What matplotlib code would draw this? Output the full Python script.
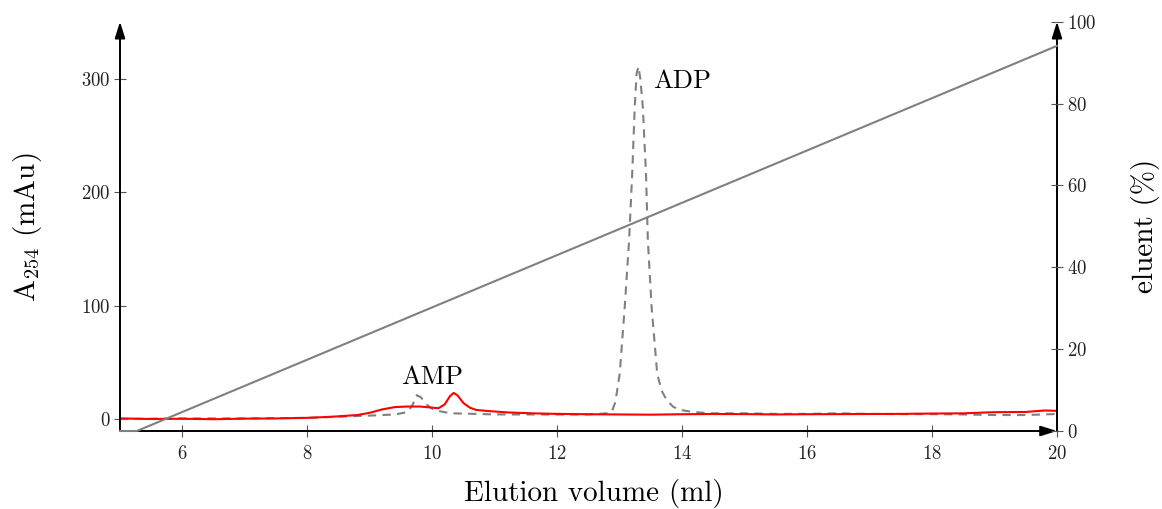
import matplotlib
matplotlib.use("Agg")
import matplotlib.pyplot as plt
import numpy as np

plt.rcParams['font.family'] = 'serif'
plt.rcParams['font.serif'] = ['cmr10']
plt.rcParams['mathtext.fontset'] = 'cm'
plt.rcParams['axes.formatter.use_mathtext'] = True

# gradient of eluent (%)
grad_x = [5.0, 5.27, 20.0]
grad_y = [0.0, 0.0, 94.1]

# A254 trace, dashed grey
dash_x = [5.0, 6.0, 7.0, 8.0, 8.5, 9.0, 9.4, 9.6, 9.68, 9.75, 9.82, 9.9, 10.0, 10.1, 10.3,
          10.7, 11.0, 11.5, 12.0, 12.5, 12.8, 12.87, 12.93, 13.0, 13.08, 13.15, 13.2, 13.24,
          13.27, 13.3, 13.33, 13.37, 13.42, 13.45, 13.51, 13.6, 13.67, 13.75, 13.85, 13.96,
          14.2, 14.5, 15.0, 15.5, 16.0, 16.5, 17.0, 17.5, 18.0, 18.5, 19.0, 19.5, 20.0]
dash_y = [0.0, 0.5, 0.5, 1.0, 2.0, 3.0, 4.0, 6.0, 12.0, 21.0, 19.0, 13.0, 9.0, 7.0, 5.0,
          4.5, 4.0, 4.0, 4.0, 4.0, 5.0, 6.0, 15.0, 40.0, 99.0, 158.0, 217.0, 275.0,
          305.0, 311.0, 300.0, 275.0, 217.0, 158.0, 99.0, 40.0, 25.0, 17.0, 11.0, 8.0,
          6.0, 5.0, 5.0, 4.5, 4.5, 5.0, 4.5, 4.3, 4.3, 4.0, 3.5, 3.5, 4.4]

# A254 trace, red
red_x = [5.0, 5.5, 6.0, 6.5, 7.0, 7.5, 8.0, 8.4, 8.8, 9.0, 9.2, 9.4, 9.6, 9.8, 10.0, 10.1,
         10.2, 10.28, 10.34, 10.4, 10.5, 10.6, 10.7, 10.9, 11.2, 11.6, 12.0, 12.5, 13.0,
         13.5, 14.0, 14.5, 15.0, 15.5, 16.0, 16.5, 17.0, 17.5, 18.0, 18.5, 19.0, 19.5,
         19.8, 20.0]
red_y = [0.5, 0.0, 0.2, -0.2, 0.3, 0.5, 1.0, 2.0, 3.5, 5.5, 8.5, 10.5, 11.0, 11.0, 10.0, 9.5,
         13.0, 20.0, 23.0, 21.0, 14.0, 10.0, 8.0, 7.0, 5.8, 5.0, 4.5, 4.2, 4.0,
         3.8, 4.2, 4.4, 4.3, 4.0, 4.2, 4.3, 4.4, 4.5, 4.8, 5.0, 6.0, 6.2,
         7.5, 7.2]

x_ticks = [6, 8, 10, 12, 14, 16, 18, 20]
left_ticks = [0, 100, 200, 300]
right_ticks = [0, 20, 40, 60, 80, 100]

fig = plt.figure(figsize=(11.62, 5.09), dpi=100)
ax = fig.add_axes([120/1162, 1-431/509, 937/1162, (431-21.7)/509])
ax2 = ax.twinx()

ax.plot(dash_x, dash_y, color='#808080', lw=1.5, ls=(0, (4, 3)), zorder=2)
ax.plot(red_x, red_y, color='red', lw=1.5, zorder=3)
ax2.plot(grad_x, grad_y, color='#808080', lw=1.5, clip_on=False)

ax.text(10.0, 30.6, 'AMP', ha='center', va='baseline', fontsize=19)
ax.text(13.53, 292, 'ADP', ha='left', va='baseline', fontsize=19)

ax.set_xlim(5, 20)
ax.set_ylim(-10.6, 350.6)
ax2.set_ylim(0, 100)
ax.set_xticks(x_ticks)
ax.set_yticks(left_ticks)
ax2.set_yticks(right_ticks)

for a in (ax, ax2):
    for s in a.spines.values():
        s.set_visible(False)
    a.tick_params(direction='inout', length=8, width=0.8, color='#555555',
                  labelsize=13.5, labelcolor='#222222', pad=3)
ax.tick_params(axis='x', pad=6)

arrow = dict(arrowstyle='-|>,head_length=0.7,head_width=0.22', lw=1.4, color='black',
             mutation_scale=14, shrinkA=0, shrinkB=0)
ax.annotate('', xy=(0, 1), xytext=(0, 0), xycoords='axes fraction', arrowprops=arrow)
ax.annotate('', xy=(1, 0), xytext=(0, 0), xycoords='axes fraction', arrowprops=arrow)
ax.annotate('', xy=(1, 1), xytext=(1, 0), xycoords='axes fraction', arrowprops=arrow)

fig.text(593.5/1162, 1-494/509, 'Elution volume (ml)', ha='center', va='center', fontsize=21)
fig.text(27/1162, 1-227/509, r'A$_{254}$ (mAu)', ha='center', va='center', rotation=90, fontsize=21)
fig.text(1146/1162, 1-226/509, 'eluent (%)', ha='center', va='center', rotation=90, fontsize=21)

fig.savefig('out.png', dpi=100)
